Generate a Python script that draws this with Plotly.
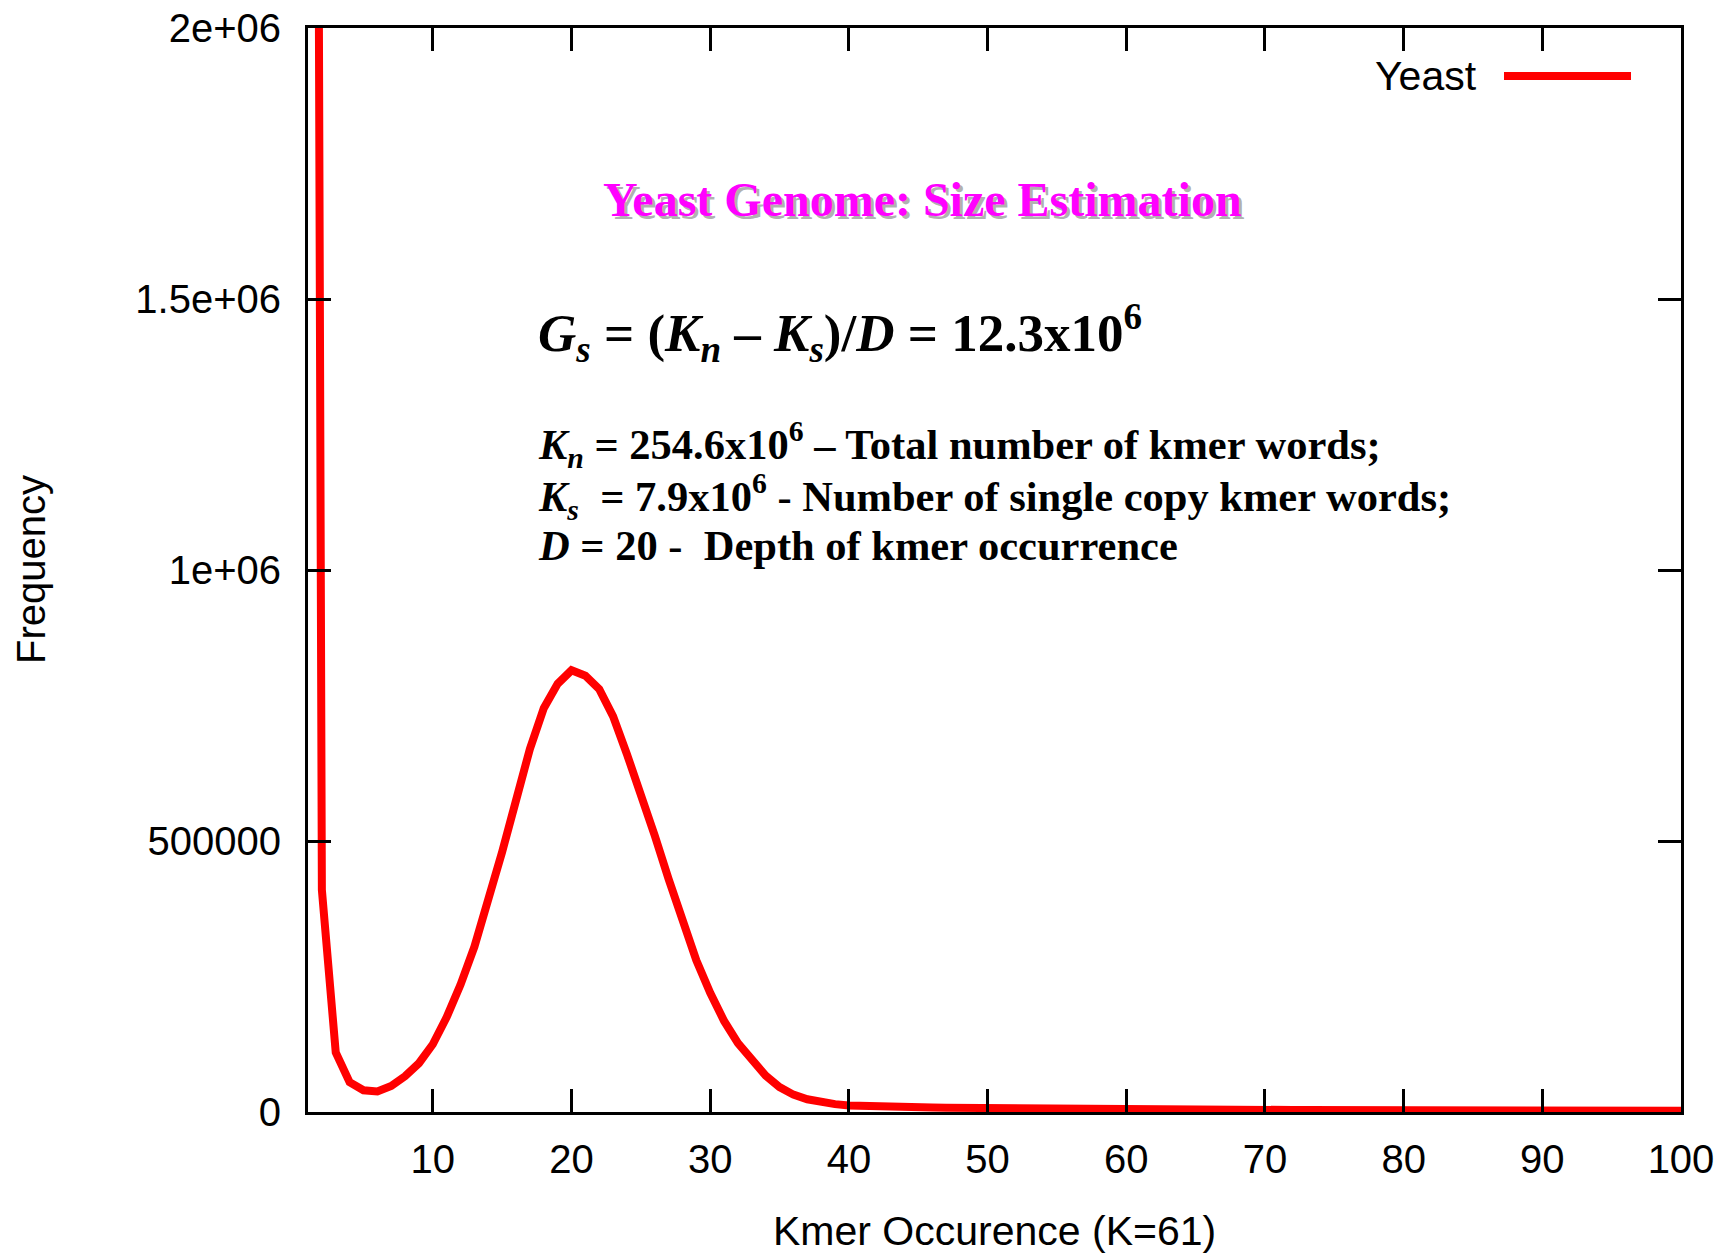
import plotly.graph_objects as go

# ---------------- data ----------------
kmer_occurrence = list(range(1, 101))
frequency = [
    7900000, 410000, 110000, 55000, 40000, 38000, 48000, 66000, 90000, 125000,
    175000, 235000, 305000, 390000, 480000, 575000, 670000, 745000, 790000, 815000,
    805000, 780000, 730000, 660000, 588000, 510000, 430000, 350000, 280000, 220000,
    168000, 127000, 94000, 67000, 46000, 32000, 23500, 18000, 14500, 12000,
    10800, 10000, 9400, 8900, 8500, 8100, 7800, 7500, 7200, 6900,
    6600, 6300, 6000, 5800, 5600, 5400, 5200, 5000, 4900, 4800,
    4700, 4600, 4500, 4400, 4300, 4200, 4100, 4000, 3900, 3800,
    3700, 3650, 3600, 3500, 3450, 3400, 3300, 3250, 3200, 3100,
    3050, 3000, 2950, 2900, 2850, 2800, 2750, 2700, 2650, 2600,
    2550, 2500, 2450, 2400, 2350, 2300, 2250, 2200, 2150, 2100,
]
x_tick_vals = [10, 20, 30, 40, 50, 60, 70, 80, 90, 100]
x_tick_text = ["10", "20", "30", "40", "50", "60", "70", "80", "90", "100"]
y_tick_vals = [0, 500000, 1000000, 1500000, 2000000]
y_tick_text = ["0", "500000", "1e+06", "1.5e+06", "2e+06"]
series_name = "Yeast"

SANS = "Liberation Sans, Arial, sans-serif"
SERIF = "Liberation Serif, Times New Roman, serif"

# plot-area geometry (page px, page has 8px body margin)
W, H = 1715, 1245
ML, MT, PW, PH = 300, 20, 1373, 1084


def px_x(page_x):
    return (page_x - 8 - ML) / PW


def px_y(page_y):
    return (MT + PH - (page_y - 8)) / PH


fig = go.Figure()
fig.add_trace(go.Scatter(
    x=kmer_occurrence, y=frequency, mode="lines", name=series_name,
    line=dict(color="#ff0000", width=8), showlegend=False,
))

axis_common = dict(
    showline=True, linecolor="black", linewidth=3, mirror="ticks",
    ticks="inside", ticklen=23, tickwidth=3, tickcolor="black",
    showgrid=False, zeroline=False, ticklabeloverflow="allow",
    tickfont=dict(family=SANS, size=40, color="black"),
)

fig.update_xaxes(range=[1, 100], tickvals=x_tick_vals, ticktext=x_tick_text,
                 ticklabelstandoff=10, **axis_common)
fig.update_yaxes(range=[0, 2000000], tickvals=y_tick_vals, ticktext=y_tick_text,
                 ticklabelstandoff=16, **axis_common)

annotations = [
    # axis titles
    dict(text="Kmer Occurence (K=61)", xref="paper", yref="paper", x=0.5, y=0,
         xanchor="center", yanchor="middle", yshift=-119, showarrow=False,
         font=dict(family=SANS, size=41, color="black")),
    dict(text="Frequency", xref="paper", yref="paper", x=0, y=0.5,
         xanchor="center", yanchor="middle", xshift=-277, textangle=-90, showarrow=False,
         font=dict(family=SANS, size=40, color="black")),
    # legend label
    dict(text=series_name, xref="paper", yref="paper", x=px_x(1479), y=px_y(76),
         xanchor="right", yanchor="middle", showarrow=False,
         font=dict(family=SANS, size=41, color="black")),
    # title shadow + title
    dict(text="<b>Yeast Genome: Size Estimation</b>", xref="paper", yref="paper",
         x=px_x(922), y=px_y(200), xanchor="center", yanchor="middle", xshift=3, yshift=-3,
         showarrow=False, font=dict(family=SERIF, size=48, color="rgba(110,110,110,0.55)")),
    dict(text="<b>Yeast Genome: Size Estimation</b>", xref="paper", yref="paper",
         x=px_x(922), y=px_y(200), xanchor="center", yanchor="middle", showarrow=False,
         font=dict(family=SERIF, size=48, color="#ff00ff")),
    # formula
    dict(text="<b><i>G<sub>s</sub></i> = (<i>K<sub>n</sub></i> \u2013 <i>K<sub>s</sub></i>)/<i>D</i> = 12.3x10<sup>6</sup></b>",
         xref="paper", yref="paper", x=px_x(536), y=px_y(333), xanchor="left", yanchor="middle",
         showarrow=False, font=dict(family=SERIF, size=53, color="black")),
    dict(text="<b><i>K<sub>n</sub></i> = 254.6x10<sup>6</sup> \u2013 Total number of kmer words;</b>",
         xref="paper", yref="paper", x=px_x(536), y=px_y(444), xanchor="left", yanchor="middle",
         showarrow=False, font=dict(family=SERIF, size=42.5, color="black")),
    dict(text="<b><i>K<sub>s</sub></i>  = 7.9x10<sup>6</sup> - Number of single copy kmer words;</b>",
         xref="paper", yref="paper", x=px_x(536), y=px_y(496), xanchor="left", yanchor="middle",
         showarrow=False, font=dict(family=SERIF, size=42.5, color="black")),
    dict(text="<b><i>D</i> = 20 -  Depth of kmer occurrence</b>",
         xref="paper", yref="paper", x=px_x(536), y=px_y(545), xanchor="left", yanchor="middle",
         showarrow=False, font=dict(family=SERIF, size=42.5, color="black")),
]

shapes = [
    dict(type="line", xref="paper", yref="paper",
         x0=px_x(1504), x1=px_x(1631), y0=px_y(76), y1=px_y(76),
         line=dict(color="#ff0000", width=8)),
]

fig.update_layout(
    width=W, height=H,
    margin=dict(l=ML, r=W - ML - PW, t=MT, b=H - MT - PH, autoexpand=False),
    paper_bgcolor="white", plot_bgcolor="white",
    showlegend=False,
    annotations=annotations, shapes=shapes,
)

fig.write_html("out.html")
